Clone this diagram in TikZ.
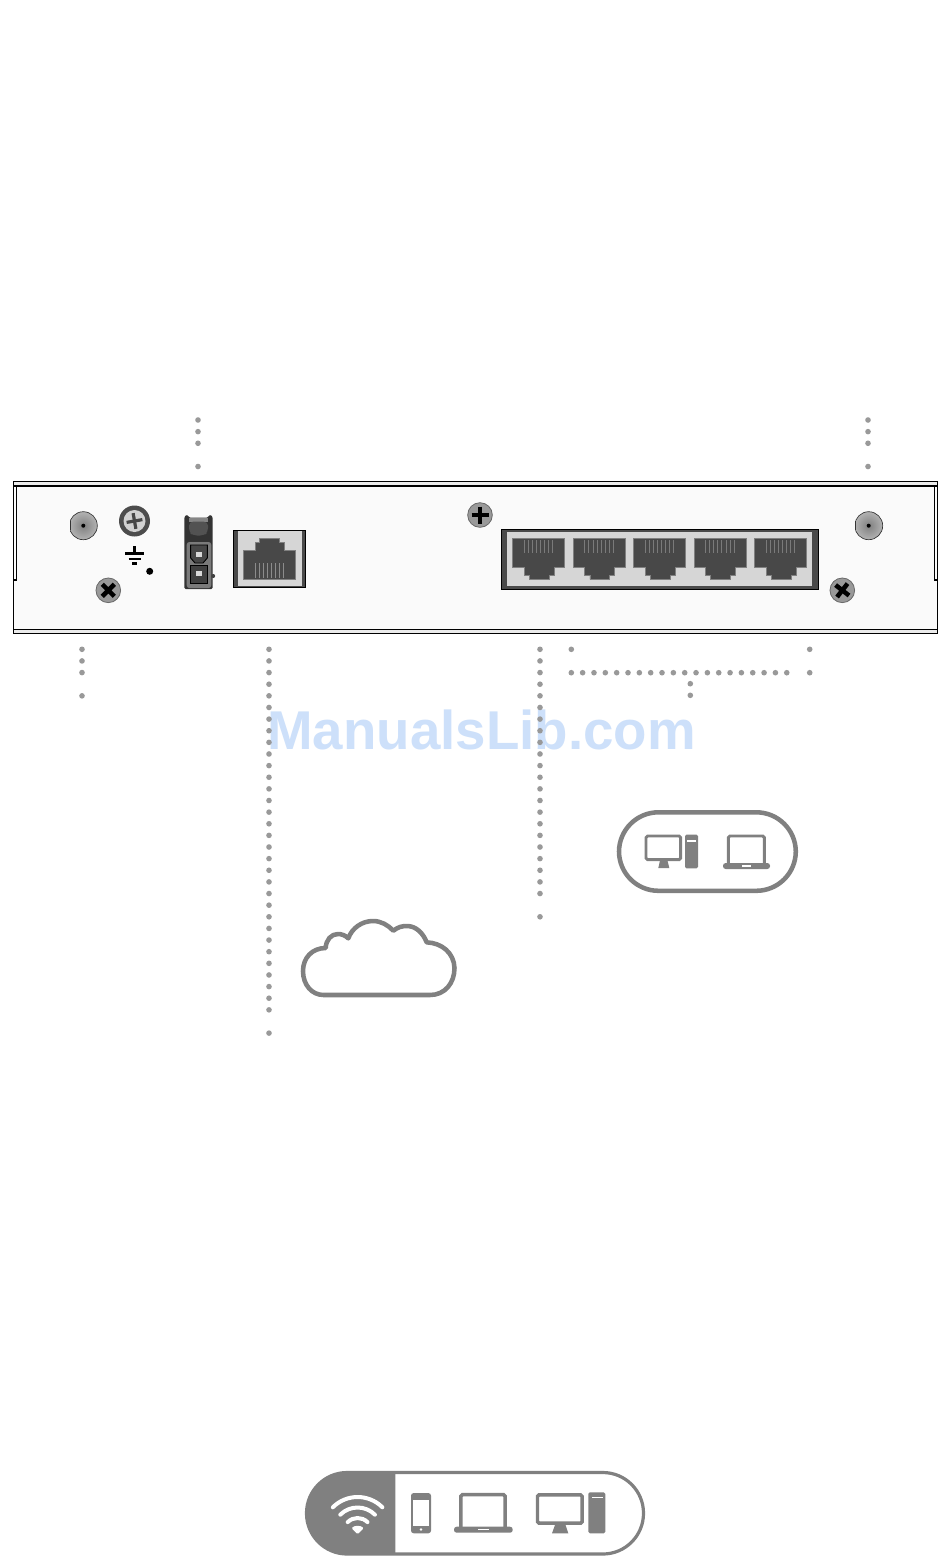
\documentclass[tikz,border=0pt]{standalone}
\usepackage{fontspec}
\setmainfont{Liberation Sans}
\definecolor{dotgray}{HTML}{999999}
\definecolor{icon}{HTML}{808080}
\definecolor{portdark}{HTML}{484848}
\definecolor{portbg}{HTML}{D6D6D6}
\definecolor{stripdark}{HTML}{4A4A4A}
\definecolor{wm}{HTML}{CDE0FA}
\tikzset{
  leader/.style={fill=dotgray,draw=none},
  iconline/.style={draw=icon,line width=2.6pt,rounded corners=1.2pt},
  iconfill/.style={fill=icon,draw=none},
  chassis/.style={draw=black,line width=0.8pt},
  cross/.style={draw=black,line width=3.4pt},
  port/.style={fill=portdark,draw=black!50,line width=0.5pt},
}
\newcommand{\ldot}[2]{\fill[leader] (#1,#2) circle (2.8);}
\newcommand{\rjwide}[1]{%
  \begin{scope}[shift={(#1,0)}]
    \path[port] (0,538.3) -- (52,538.3) -- (52,567.3) -- (41.3,567.3) -- (41.3,575.3) -- (36.3,575.3) -- (36.3,579.3) -- (16.6,579.3) -- (16.6,575.3) -- (11.3,575.3) -- (11.3,567.3) -- (0,567.3) -- cycle;
    \foreach \p in {0,...,7} \draw[black!52,line width=0.45pt] (11.3+\p*4.1,540) -- (11.3+\p*4.1,553.3);
  \end{scope}}
\newcommand{\xscrew}[3]{%
  \begin{scope}[shift={(#1,#2)}]
    \fill[black!40] (0,0) circle (12.5);
    \draw[black!58,line width=0.6pt] (0,0) circle (12.3);
    \begin{scope}[rotate=#3]
      \draw[cross] (-8.5,0) -- (8.5,0) (0,-8.5) -- (0,8.5);
    \end{scope}
  \end{scope}}
\newcommand{\antenna}[2]{%
  \begin{scope}
    \clip (#1-13.2,#2-16) rectangle (#1+16,#2+16);
    \shade[inner color=black!50,outer color=black!30,draw=black!80,line width=0.5pt] (#1,#2) circle (14);
  \end{scope}
  \draw[black!80,line width=0.5pt] (#1-13.2,#2-4.6) -- (#1-13.2,#2+4.6);
  \fill[black] (#1,#2) circle (2);}
\begin{document}
\begin{tikzpicture}[x=0.75pt,y=-0.75pt]
\useasboundingbox (0,0) rectangle (950,1568);
\fill[white] (0,0) rectangle (950,1568);
% watermark
\node[anchor=base,text=wm,font=\fontsize{41pt}{46pt}\selectfont\bfseries,inner sep=0pt] (watermark) at (481.5,749.5) {ManualsLib.com};
% leaders
\foreach \k in {0,1,2,4} {\ldot{198}{420+\k*11.63} \ldot{868}{420+\k*11.63}}
\foreach \k in {0,1,2,4} {\ldot{82}{649.3+\k*11.63}}
\foreach \k in {0,...,31,33} {\ldot{269}{649.3+\k*11.63}}
\foreach \k in {0,...,21,23} {\ldot{540}{649.3+\k*11.63}}
\ldot{571.3}{649.3}
\foreach \k in {0,...,19} {\ldot{571.3+\k*11.34}{672.7}}
\ldot{809.7}{649.3}
\ldot{809.7}{672.7}
\ldot{690.3}{683.7}
\ldot{690.3}{695.3}
% chassis
\filldraw[chassis,fill=black!8] (13.5,481.5) rectangle (937.5,633.5);
\filldraw[chassis,fill=black!2] (13.5,486) -- (937.5,486) -- (937.5,629.5) -- (13.5,629.5) -- cycle;
\draw[chassis] (16.8,486) -- (16.8,580) -- (13.5,580);
\draw[chassis] (934.3,486) -- (934.3,580) -- (937.5,580);
% antennas
\antenna{83.3}{525.7}
\antenna{868.7}{525.7}
% ground screw
\fill[black!70] (134.5,521) circle (15.5);
\fill[black!18] (134.5,521) circle (11);
\begin{scope}[shift={(134.5,521)},rotate=10]
  \draw[black!72,line width=2.4pt] (-8,0) -- (8,0) (0,-8) -- (0,8);
\end{scope}
% ground symbol
\draw[black,line width=1.6pt] (134.5,546) -- (134.5,553.5);
\draw[black,line width=1.6pt] (125,553.5) -- (144,553.5) (128.5,558.7) -- (140.5,558.7);
\draw[black,line width=2.2pt] (132,563.3) -- (137,563.3);
\fill[black] (149.7,571.3) circle (3.5);
% screws
\xscrew{108.3}{590.3}{45}
\xscrew{842.3}{590.3}{52}
\xscrew{480}{515}{0}
% power connector
\fill[black!80,rounded corners=1pt] (184.3,589) -- (184.3,517) -- (186,515) -- (188,515) -- (189,517.7) -- (208,517.7) -- (209,515) -- (211,515) -- (212.7,517) -- (212.7,589) -- cycle;
\fill[black!48] (189,517.7) rectangle (208,521.7);
\fill[black!68,rounded corners=3pt] (189,521.7) -- (208,521.7) -- (208,532) -- (204,535.5) -- (193,535.5) -- (189,532) -- cycle;
\fill[black!52,rounded corners=2pt] (186.7,542) rectangle (211.3,588);
\filldraw[draw=black,fill=black!72,line width=0.7pt] (190.7,545) -- (207.3,545) -- (207.3,558) -- (203,563) -- (195,563) -- (190.7,558) -- cycle;
\fill[black!15] (196,552.3) rectangle (202,556.7);
\filldraw[draw=black,fill=black!75,line width=0.7pt] (190.7,565) rectangle (207.3,583.3);
\fill[black!15] (196,570.7) rectangle (202,576);
\fill[black!75] (213.2,576) circle (2);
% single RJ45
\filldraw[draw=black,line width=0.8pt,fill=stripdark] (233.5,530.2) rectangle (305.5,587.3);
\fill[portbg] (238,531) rectangle (301.5,585.5);
\path[port] (243.7,579) -- (243.7,550) -- (255,550) -- (255,542.3) -- (259.3,542.3) -- (259.3,538) -- (279.7,538) -- (279.7,542.3) -- (284,542.3) -- (284,550) -- (295.3,550) -- (295.3,579) -- cycle;
\foreach \p in {0,...,7} \draw[black!45,line width=0.45pt] (255.3+\p*4.05,563.3) -- (255.3+\p*4.05,577.7);
% switch block
\filldraw[draw=black,line width=0.8pt,fill=stripdark] (501.5,529.2) rectangle (818.5,589.2);
\fill[portbg] (507.3,531.7) rectangle (812.3,586);
\rjwide{512.7}
\rjwide{573.3}
\rjwide{633.7}
\rjwide{694}
\rjwide{754.7}
% wired pill
\draw[draw=icon,line width=3.4pt,rounded corners=29.6pt] (619,812.3) rectangle (795.8,890.8);
\draw[iconline,line width=2.2pt] (646,836) rectangle (680.7,859.7);
\path[iconfill] (660,860.5) -- (667.5,860.5) -- (669.3,868) -- (658.3,868) -- cycle;
\path[iconfill,rounded corners=1pt] (685,834.7) rectangle (698,868.3);
\fill[white] (687.3,840) rectangle (696,841.7);
\draw[iconline,line width=2.2pt] (728.3,863.3) -- (728.3,836) -- (764.4,836) -- (764.4,863.3);
\path[iconfill,rounded corners=2pt] (723,863) -- (770,863) -- (770,869) -- (723,869) -- cycle;
\fill[white] (741.7,865.3) rectangle (750.7,867.3);
% cloud
\draw[icon,line width=3.4pt,line join=round,fill=white]
  (323.5,995) -- (430,995)
  .. controls (445,995) and (454.5,983) .. (454.5,968)
  .. controls (454,953) and (442,943) .. (426.7,942.3)
  .. controls (423,933) and (416,926) .. (407,926)
  .. controls (402,926) and (398,927) .. (393.3,930.7)
  .. controls (388,925) and (381,921) .. (373,921)
  .. controls (362,921) and (352,928) .. (348.3,938.3)
  .. controls (345,935) and (341,934) .. (338,934)
  .. controls (331,934) and (326,940) .. (325.7,948)
  .. controls (312,948) and (303,958) .. (303,971)
  .. controls (303,985) and (312,995) .. (323.5,995) -- cycle;
% wireless pill
\begin{scope}
  \clip (300,1465) rectangle (395.3,1560);
  \fill[icon,rounded corners=30.5pt] (306.5,1472.5) rectangle (643.5,1554);
\end{scope}
\draw[draw=icon,line width=2.4pt,rounded corners=30.5pt] (306.5,1472.5) rectangle (643.5,1554);
% wifi
\begin{scope}[shift={(357.6,1532)}]
  \foreach \r in {14,24.5,35}
    \draw[white,line width=3pt,line cap=round] ({-\r*0.7071},{-\r*0.7071}) .. controls ({-\r*0.3166},{-\r*1.0976}) and ({\r*0.3166},{-\r*1.0976}) .. ({\r*0.7071},{-\r*0.7071});
  \fill[white,rounded corners=0.8pt] (0,2.2) -- (-6,-3.8) .. controls (-3,-6.8) and (3,-6.8) .. (6,-3.8) -- cycle;
\end{scope}
% phone
\path[iconfill,rounded corners=2pt] (411,1493) rectangle (431,1533.3);
\fill[white] (413.3,1500.3) rectangle (428.7,1526);
\fill[white] (421,1529.5) circle (1.4);
% laptop
\draw[iconline] (460.8,1527) -- (460.8,1494.7) -- (505.2,1494.7) -- (505.2,1527);
\path[iconfill,rounded corners=2pt] (454,1526.7) -- (512.7,1526.7) -- (512.7,1532.7) -- (454,1532.7) -- cycle;
\fill[white] (477.7,1528.7) rectangle (489,1530.3);
% monitor + tower
\draw[iconline] (537.5,1494.8) rectangle (582.2,1523.2);
\path[iconfill] (555,1525) -- (565.5,1525) -- (568.3,1533.3) -- (552,1533.3) -- cycle;
\path[iconfill,rounded corners=1.2pt] (588.3,1492.3) rectangle (605.3,1533.3);
\fill[white] (591.7,1496.7) rectangle (602.7,1497.9);
\end{tikzpicture}
\end{document}
